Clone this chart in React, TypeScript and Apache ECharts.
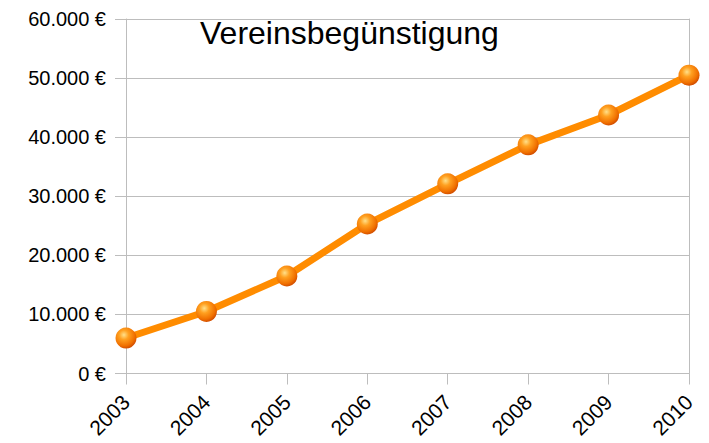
import React, { useEffect, useRef } from "react";
import * as echarts from "echarts";

const years = ["2003", "2004", "2005", "2006", "2007", "2008", "2009", "2010"];
const values = [6000, 10500, 16500, 25300, 32100, 38700, 43750, 50500];
const chartTitle = "Vereinsbegünstigung";

function fmt(v: number): string {
  const s = Math.round(v).toString().replace(/\B(?=(\d{3})+(?!\d))/g, ".");
  return s + " €";
}

export default function App() {
  const ref = useRef<HTMLDivElement>(null);
  useEffect(() => {
    if (!ref.current) return;
    const chart = echarts.init(ref.current, undefined, { renderer: "svg" });
    const gridColor = "#bdbdbd";
    chart.setOption({
      animation: false,
      backgroundColor: "#ffffff",
      textStyle: { fontFamily: "Liberation Sans" },
      title: {
        text: chartTitle,
        left: 200,
        top: 17,
        padding: 0,
        textStyle: { fontFamily: "Liberation Sans", fontSize: 32, fontWeight: "normal", color: "#000" },
      },
      grid: { left: 126, right: 20, top: 19, bottom: 69.5, containLabel: false, outerBoundsMode: "none" },
      xAxis: {
        type: "category",
        data: years,
        boundaryGap: false,
        axisLine: { show: true, lineStyle: { color: gridColor, width: 1 } },
        axisTick: { show: true, length: 11, lineStyle: { color: gridColor } },
        axisLabel: { rotate: 45, fontSize: 21, color: "#000", margin: 25, fontFamily: "Liberation Sans" },
        splitLine: { show: false },
      },
      yAxis: [
        {
          type: "value",
          min: 0,
          max: 60000,
          interval: 10000,
          axisLine: { show: true, lineStyle: { color: gridColor, width: 1 } },
          axisTick: { show: true, length: 11, lineStyle: { color: gridColor } },
          axisLabel: { fontSize: 20, color: "#000", margin: 20, formatter: (v: number) => fmt(v), fontFamily: "Liberation Sans" },
          splitLine: { show: true, lineStyle: { color: gridColor, width: 1 } },
        },
        {
          type: "value",
          position: "right",
          min: 0,
          max: 60000,
          interval: 10000,
          axisLine: { show: true, lineStyle: { color: gridColor, width: 1 } },
          axisTick: { show: false },
          axisLabel: { show: false },
          splitLine: { show: false },
        },
      ],
      series: [
        {
          type: "line",
          data: values,
          yAxisIndex: 0,
          symbol: "circle",
          symbolSize: 21,
          lineStyle: { color: "#ff8c00", width: 7 },
          itemStyle: {
            color: {
              type: "radial",
              x: 0.4,
              y: 0.35,
              r: 0.65,
              colorStops: [
                { offset: 0, color: "#ffe08a" },
                { offset: 0.35, color: "#ffa020" },
                { offset: 0.8, color: "#f07000" },
                { offset: 1, color: "#d45000" },
              ],
            },
            borderWidth: 0,
          },
          z: 3,
        },
      ],
    });
    return () => chart.dispose();
  }, []);
  return <div ref={ref} style={{ width: 709, height: 443, position: "absolute", left: 0, top: 0 }} />;
}
